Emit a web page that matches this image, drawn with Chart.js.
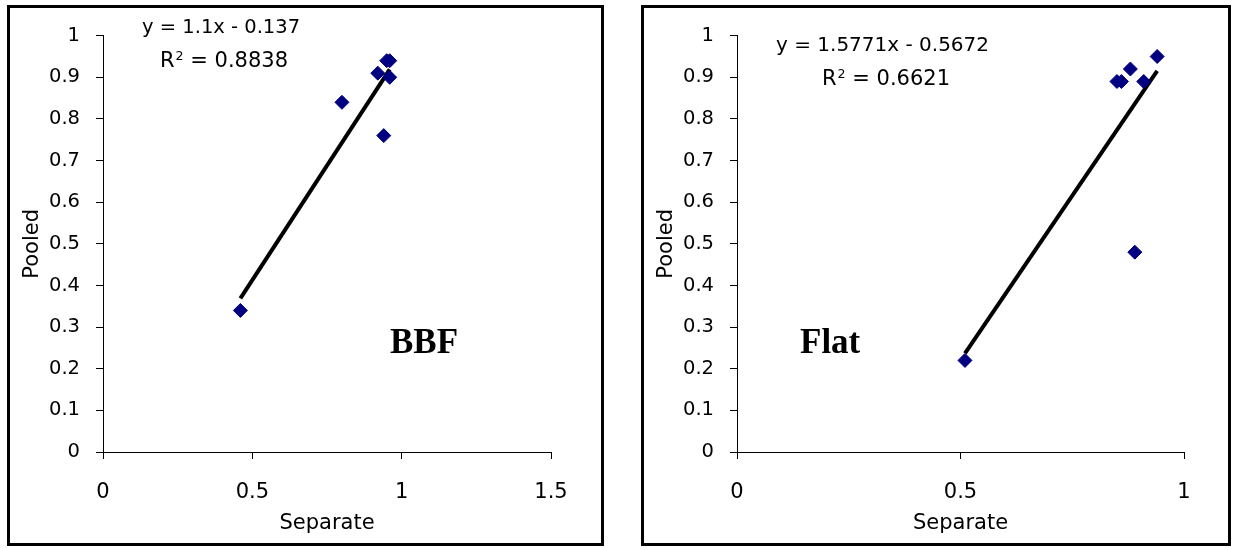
<!DOCTYPE html>
<html lang="en">
<head>
<meta charset="UTF-8">
<title>Pooled vs Separate</title>
<script src="https://cdn.jsdelivr.net/npm/chart.js"></script>
<style>
  body {
    margin: 0;
    width: 1236px;
    height: 548px;
    position: relative;
    overflow: hidden;
    background: #fff;
    font-family: "DejaVu Sans", sans-serif;
    color: #000;
  }
  .frame {
    position: absolute;
    box-sizing: border-box;
    border: 3px solid #000;
    background: #fff;
  }
  .frame canvas { position: absolute; left: 0; top: 0; }
  .note { position: absolute; white-space: nowrap; line-height: 1; }
  .note sup { font-size: 0.6em; position: relative; top: -0.55em; vertical-align: baseline; line-height: 0; margin-left: 1px; }
  .tag {
    position: absolute;
    font-family: "Liberation Serif", "Times New Roman", serif;
    font-weight: bold;
    font-size: 35px;
    line-height: 1;
  }
</style>
</head>
<body>
  <div class="frame" style="left:7px; top:5px; width:597px; height:541px;">
    <canvas id="bbfChart" width="591" height="535"></canvas>
  </div>
  <div class="frame" style="left:641px; top:5px; width:590px; height:541px;">
    <canvas id="flatChart" width="584" height="535"></canvas>
  </div>

  <div class="note" style="left:142px; top:17px; font-size:19.5px;">y = 1.1x - 0.137</div>
  <div class="note" style="left:160px; top:50px; font-size:21px;">R<sup>2</sup> = 0.8838</div>
  <div class="tag" style="left:390px; top:324px;">BBF</div>

  <div class="note" style="left:776px; top:34px; font-size:20px;">y = 1.5771x - 0.5672</div>
  <div class="note" style="left:822px; top:68px; font-size:21px;">R<sup>2</sup> = 0.6621</div>
  <div class="tag" style="left:800px; top:324px;">Flat</div>

  <script>
    // BBF panel
    const bbfSeparate = [0.46, 0.80, 0.92, 0.94, 0.95, 0.96, 0.96];
    const bbfPooled   = [0.34, 0.84, 0.91, 0.76, 0.94, 0.94, 0.90];
    const bbfFit = [1.1, -0.137];        // slope, intercept
    const bbfXMax = 1.5;

    // Flat panel
    const flatSeparate = [0.51, 0.85, 0.86, 0.88, 0.91, 0.94, 0.89];
    const flatPooled   = [0.22, 0.89, 0.89, 0.92, 0.89, 0.95, 0.48];
    const flatFit = [1.5771, -0.5672];
    const flatXMax = 1;

    const xStep = 0.5;
    const yMax = 1;
    const yStep = 0.1;
    const xLabel = "Separate";
    const yLabel = "Pooled";

    const plotTop = 19, plotBottom = 444, plotLeft = 93;

    // 1.0 -> "1", 0.90000001 -> "0.9"
    const fmt = v => String(parseFloat(Number(v).toFixed(1)));

    function makeChart(id, xs, ys, fit, xMax, rightPad) {
      const canvas = document.getElementById(id);
      const pts = xs.map((x, i) => ({ x: x, y: ys[i] }));
      const x0 = Math.min(...xs), x1 = Math.max(...xs);
      const trend = [x0, x1].map(x => ({ x: x, y: fit[0] * x + fit[1] }));

      const axisBase = {
        border: { display: true, color: "#000", width: 1 },
        grid: { display: true, drawOnChartArea: false, drawTicks: true, tickLength: 7, color: "#000" }
      };

      return new Chart(canvas, {
        type: "scatter",
        data: {
          datasets: [
            {
              label: "Pooled",
              data: pts,
              pointStyle: "rectRot",
              pointRadius: 7,
              pointBackgroundColor: "#000080",
              pointBorderColor: "#000080",
              pointBorderWidth: 1,
              order: 1
            },
            {
              type: "line",
              label: "Linear",
              data: trend,
              borderColor: "#000",
              borderWidth: 4,
              pointRadius: 0,
              fill: false,
              order: 2
            }
          ]
        },
        options: {
          responsive: false,
          animation: false,
          devicePixelRatio: 1,
          layout: { padding: { left: 0, top: plotTop, right: rightPad, bottom: 0 } },
          plugins: { legend: { display: false }, tooltip: { enabled: false } },
          scales: {
            x: Object.assign({}, axisBase, {
              type: "linear",
              position: "bottom",
              min: 0,
              max: xMax,
              ticks: { stepSize: xStep, padding: 21, color: "#000", callback: fmt, font: { family: "DejaVu Sans", size: 21 } },
              title: { display: true, text: xLabel, color: "#000", padding: { top: 0, bottom: 7 }, font: { family: "DejaVu Sans", size: 21 } },
              afterFit: s => { s.height = canvas.height - plotBottom; }
            }),
            y: Object.assign({}, axisBase, {
              type: "linear",
              position: "left",
              min: 0,
              max: yMax,
              ticks: { stepSize: yStep, padding: 16, color: "#000", callback: fmt, font: { family: "DejaVu Sans", size: 19.5 } },
              title: { display: true, text: yLabel, color: "#000", padding: { top: 10, bottom: 0 }, font: { family: "DejaVu Sans", size: 21 } },
              afterFit: s => { s.width = plotLeft; }
            })
          }
        }
      });
    }

    makeChart("bbfChart", bbfSeparate, bbfPooled, bbfFit, bbfXMax, 591 - 541);
    makeChart("flatChart", flatSeparate, flatPooled, flatFit, flatXMax, 584 - 540);
  </script>
</body>
</html>
